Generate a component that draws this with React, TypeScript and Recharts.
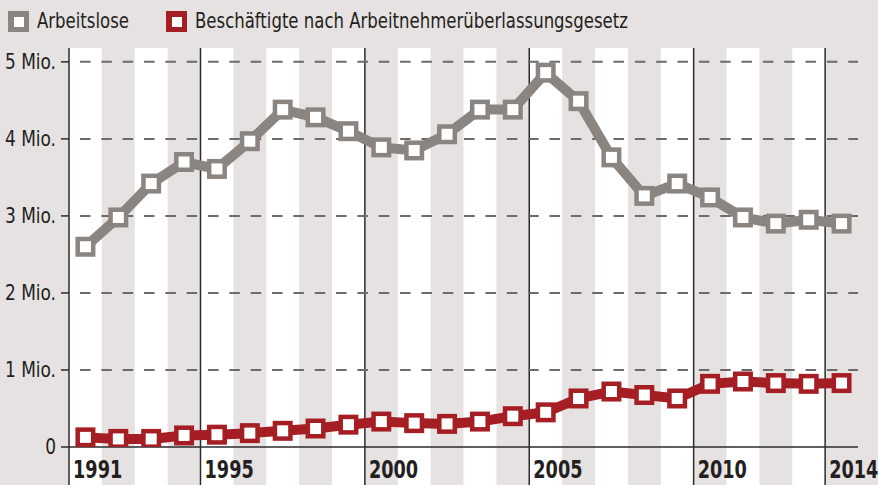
import React from "react";
import {
  ComposedChart,
  Line,
  XAxis,
  YAxis,
  ReferenceArea,
  ReferenceLine,
} from "recharts";

const years = [
  1991, 1992, 1993, 1994, 1995, 1996, 1997, 1998, 1999, 2000, 2001, 2002,
  2003, 2004, 2005, 2006, 2007, 2008, 2009, 2010, 2011, 2012, 2013, 2014,
];
const arbeitslose = [
  2.6, 2.98, 3.42, 3.7, 3.61, 3.97, 4.38, 4.28, 4.1, 3.89, 3.85, 4.06, 4.38,
  4.38, 4.86, 4.49, 3.76, 3.26, 3.42, 3.24, 2.98, 2.9, 2.95, 2.9,
];
const leiharbeit = [
  0.125, 0.105, 0.105, 0.15, 0.16, 0.18, 0.21, 0.24, 0.29, 0.33, 0.31, 0.3,
  0.33, 0.4, 0.45, 0.63, 0.72, 0.675, 0.63, 0.82, 0.85, 0.83, 0.82, 0.83,
];
const yTicks = [0, 1, 2, 3, 4, 5];
const xLabelYears = [1991, 1995, 2000, 2005, 2010, 2014];
const seriesNames = ["Arbeitslose", "Beschäftigte nach Arbeitnehmerüberlassungsgesetz"];

const GREY = "#8b8581";
const RED = "#a51e24";
const BG = "#e6e2e2";
const FONT = "'Liberation Sans Narrow', 'DejaVu Sans Condensed', 'Roboto', sans-serif";

const data = years.map((y, i) => ({
  year: y,
  arbeitslose: arbeitslose[i],
  leiharbeit: leiharbeit[i],
}));

const BOTTOM_EXT = 38;

const makeDot = (color: string) => (props: any) => {
  const { cx, cy, index } = props;
  if (cx == null || cy == null) return <g key={index} />;
  return (
    <g key={index}>
      <rect x={cx - 10} y={cy - 10} width={20} height={20} fill={color} />
      <rect x={cx - 5.5} y={cy - 5.5} width={11} height={11} fill="#ffffff" />
    </g>
  );
};

const BandShape = (props: any) => {
  const { x, y, width, height } = props;
  return <rect x={x} y={y} width={width} height={height + BOTTOM_EXT} fill="#ffffff" />;
};

const XTick = (props: any) => {
  const { x, y, payload } = props;
  const label = String(Math.round(payload.value + 0.5));
  return (
    <g transform={`translate(${x + 4},${y - 7}) scale(0.82,1)`}>
      <text
        x={0}
        y={0}
        textAnchor="start"
        fontFamily={FONT}
        fontWeight="bold"
        fontSize={24}
        fill="#231f20"
      >
        {label}
      </text>
    </g>
  );
};

const YTick = (props: any) => {
  const { x, y, payload } = props;
  const v = payload.value;
  return (
    <g transform={`translate(${x + 1},${y + 7}) scale(0.9,1)`}>
      <text
        x={0}
        y={0}
        textAnchor="end"
        fontFamily={FONT}
        fontSize={21}
        fill="#231f20"
      >
        {v === 0 ? "0" : `${v} Mio.`}
      </text>
    </g>
  );
};

const LegendItem = ({ color, label, left }: { color: string; label: string; left: number }) => (
  <div style={{ position: "absolute", left, top: 0, height: 40 }}>
    <div
      style={{
        position: "absolute",
        left: 0,
        top: 11,
        width: 21,
        height: 21,
        background: color,
      }}
    >
      <div
        style={{
          position: "absolute",
          left: 5.5,
          top: 5.5,
          width: 10,
          height: 10,
          background: "#fff",
        }}
      />
    </div>
    <div
      style={{
        position: "absolute",
        left: 29,
        top: 6,
        whiteSpace: "nowrap",
        fontFamily: FONT,
        fontSize: 21,
        lineHeight: "30px",
        color: "#231f20",
        transform: "scaleX(0.875)",
        transformOrigin: "0 0",
      }}
    >
      {label}
    </div>
  </div>
);

export default function App() {
  return (
    <div
      style={{
        position: "absolute",
        left: 0,
        top: 0,
        width: 878,
        height: 485,
        background: BG,
        overflow: "hidden",
      }}
    >
      <ComposedChart
        width={878}
        height={485}
        data={data}
        margin={{ top: 48, right: 20, bottom: 0, left: 0 }}
      >
        {years
          .filter((_, i) => i % 2 === 0)
          .map((y) => (
            <ReferenceArea
              key={`band-${y}`}
              x1={y - 0.5}
              x2={y + 0.5}
              shape={BandShape}
              ifOverflow="visible"
            />
          ))}
        {xLabelYears.map((y) => (
          <ReferenceLine
            key={`v-${y}`}
            x={y - 0.5}
            stroke="#2b2b2b"
            strokeWidth={1.5}
            ifOverflow="visible"
          />
        ))}
        {yTicks
          .filter((t) => t > 0)
          .map((t) => (
            <ReferenceLine
              key={`h-${t}`}
              y={t}
              stroke="#6e6a6a"
              strokeWidth={2}
              strokeDasharray="10.5 10.84"
              strokeDashoffset={10.34}
            />
          ))}
        <XAxis
          dataKey="year"
          type="number"
          domain={[1990.5, 2014.5]}
          ticks={xLabelYears.map((y) => y - 0.5)}
          allowDataOverflow
          height={BOTTOM_EXT}
          axisLine={{ stroke: "#2b2b2b", strokeWidth: 1.5 }}
          tickLine={{ stroke: "#2b2b2b", strokeWidth: 1.5 }}
          tickSize={BOTTOM_EXT}
          tickMargin={0}
          tick={<XTick />}
          interval={0}
        />
        <YAxis
          type="number"
          domain={[0, 5.18]}
          ticks={yTicks}
          width={69}
          axisLine={false}
          tickLine={{ stroke: "#2b2b2b", strokeWidth: 1.5 }}
          tickSize={8}
          tickMargin={6}
          tick={<YTick />}
          allowDataOverflow
        />
        <Line
          dataKey="arbeitslose"
          name={seriesNames[0]}
          stroke={GREY}
          strokeWidth={10}
          dot={makeDot(GREY)}
          activeDot={false}
          isAnimationActive={false}
        />
        <Line
          dataKey="leiharbeit"
          name={seriesNames[1]}
          stroke={RED}
          strokeWidth={10}
          dot={makeDot(RED)}
          activeDot={false}
          isAnimationActive={false}
        />
      </ComposedChart>
      <LegendItem color={GREY} label={seriesNames[0]} left={8} />
      <LegendItem color={RED} label={seriesNames[1]} left={166} />
    </div>
  );
}
